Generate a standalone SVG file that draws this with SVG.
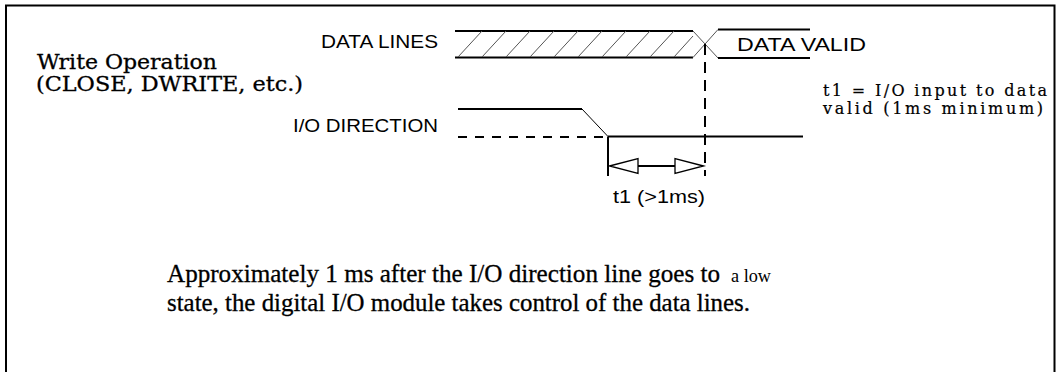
<svg xmlns="http://www.w3.org/2000/svg" width="1056" height="372" viewBox="0 0 1056 372">
<style>
.sans{font-family:"Liberation Sans",Arial,sans-serif;fill:#000}
.serif{font-family:"DejaVu Serif","Liberation Serif",serif;fill:#000;stroke:#000;stroke-width:0.3}
.cap{font-family:"Liberation Serif","Times New Roman",serif;fill:#000;stroke:#000;stroke-width:0.3}
.w{stroke:#000;stroke-width:2;fill:none}
.thin{stroke:#000;stroke-width:1;fill:none}
.hatch{stroke:#555;stroke-width:1;fill:none}
.dash{stroke:#000;stroke-width:2;fill:none;stroke-dasharray:9 8}
.vdash{stroke:#000;stroke-width:2;fill:none;stroke-dasharray:11 7}
.head{stroke:#000;stroke-width:1.3;fill:#fff}
</style>
<rect x="0" y="0" width="1056" height="372" fill="#fff"/>
<rect id="frame" x="6" y="5.5" width="1048.5" height="420" fill="none" stroke="#000" stroke-width="2"/>

<g id="labels-left">
<text class="serif" x="37" y="68.5" font-size="20" textLength="180" lengthAdjust="spacingAndGlyphs">Write Operation</text>
<text class="serif" x="36" y="90.5" font-size="20" textLength="267" lengthAdjust="spacingAndGlyphs">(CLOSE, DWRITE, etc.)</text>
</g>

<g id="data-lines">
<text class="sans" x="438" y="48" font-size="18" text-anchor="end" textLength="117" lengthAdjust="spacingAndGlyphs">DATA LINES</text>
<line class="w" x1="455" y1="31" x2="693" y2="31"/>
<line class="w" x1="455" y1="57.5" x2="693" y2="57.5"/>
<g class="hatch">
<line x1="458" y1="57" x2="482" y2="31"/>
<line x1="482" y1="57" x2="506" y2="31"/>
<line x1="506" y1="57" x2="530" y2="31"/>
<line x1="530" y1="57" x2="554" y2="31"/>
<line x1="554" y1="57" x2="578" y2="31"/>
<line x1="578" y1="57" x2="602" y2="31"/>
<line x1="602" y1="57" x2="626" y2="31"/>
<line x1="626" y1="57" x2="650" y2="31"/>
<line x1="650" y1="57" x2="674" y2="31"/>
<line x1="674" y1="57" x2="693" y2="36"/>
</g>
<line class="hatch" x1="693" y1="31" x2="718" y2="58"/>
<line class="hatch" x1="693" y1="57.5" x2="718" y2="29.5"/>
<line class="w" x1="718" y1="29.5" x2="810" y2="29.5"/>
<line class="w" x1="718" y1="58" x2="810" y2="58"/>
<text class="sans" x="737" y="51" font-size="19" textLength="129" lengthAdjust="spacingAndGlyphs">DATA VALID</text>
</g>

<g id="io-direction">
<text class="sans" x="438" y="131.5" font-size="18" text-anchor="end" textLength="145" lengthAdjust="spacingAndGlyphs">I/O DIRECTION</text>
<line class="w" x1="458" y1="109" x2="582" y2="109"/>
<line class="thin" x1="582" y1="109" x2="608" y2="136.5"/>
<line class="dash" x1="458" y1="137" x2="608" y2="137"/>
<line class="w" x1="608" y1="136.5" x2="803" y2="136.5"/>
</g>

<g id="connectors">
<line class="vdash" x1="705" y1="44" x2="705" y2="176"/>
<line class="w" x1="608" y1="136.5" x2="608" y2="176"/>
<line class="w" x1="638" y1="166" x2="675" y2="166"/>
<polygon class="head" points="609.5,166 638,158.5 638,173.5"/>
<polygon class="head" points="703.5,166 675,158.5 675,173.5"/>
<text class="sans" x="613" y="203" font-size="19" textLength="92" lengthAdjust="spacingAndGlyphs">t1 (&gt;1ms)</text>
</g>

<g id="note">
<text class="serif" x="823" y="95.5" font-size="16" textLength="224" lengthAdjust="spacing" style="stroke-width:0.2">t1 = I/O input to data</text>
<text class="serif" x="823" y="113.5" font-size="16" textLength="220" lengthAdjust="spacing" style="stroke-width:0.2">valid (1ms minimum)</text>
</g>

<g id="caption">
<text class="cap" x="167" y="281.5" font-size="25" textLength="553" lengthAdjust="spacingAndGlyphs">Approximately 1 ms after the I/O direction line goes to</text>
<text class="cap" x="731" y="281.5" font-size="19" textLength="40" lengthAdjust="spacingAndGlyphs" style="stroke-width:0">a low</text>
<text class="cap" x="167" y="310.5" font-size="25" textLength="583" lengthAdjust="spacingAndGlyphs">state, the digital I/O module takes control of the data lines.</text>
</g>
</svg>
